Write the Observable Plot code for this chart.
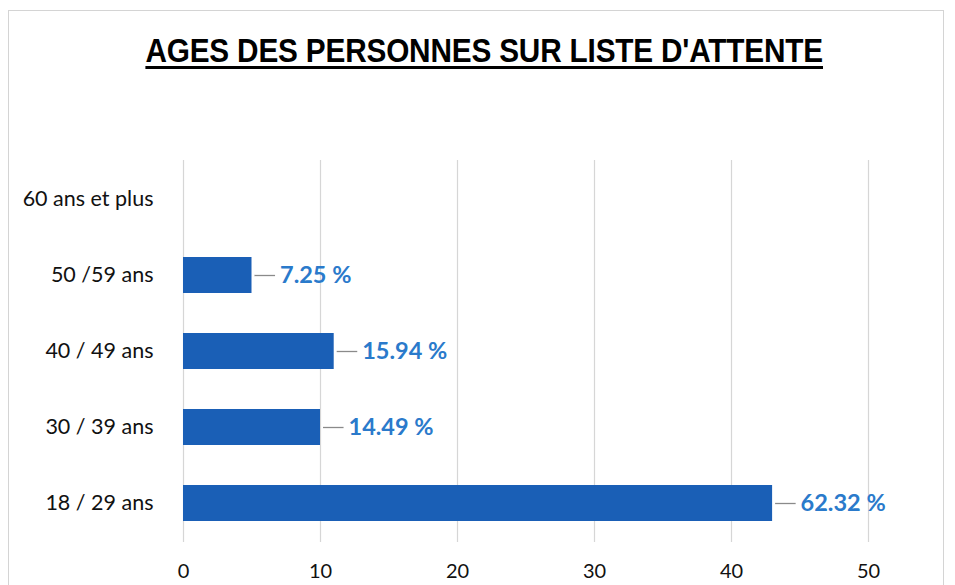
<!DOCTYPE html>
<html>
<head>
<meta charset="utf-8">
<script src="https://cdn.jsdelivr.net/npm/d3@7"></script>
<script src="https://cdn.jsdelivr.net/npm/@observablehq/plot@0.6"></script>
<style>
  html, body { margin: 0; padding: 0; background: #fff; }
  #wrap { position: relative; width: 955px; height: 585px; overflow: hidden; }
  #frame { position: absolute; left: 8px; top: 10px; width: 936px; height: 600px; border: 1px solid #d4d4d4; box-sizing: border-box; }
  #title { position: relative; height: 90px; text-align: center; padding-left: 13px; box-sizing: border-box; }
  #title span { display: inline-block; margin-top: 31px; font-family: "Liberation Sans", Arial, sans-serif; font-weight: bold; font-size: 34px; color: #000;
    text-decoration: underline; text-decoration-thickness: 3px; text-underline-offset: 4px; transform: scaleX(0.875); transform-origin: center; letter-spacing: -0.2px; }
  #chart { position: relative; }
</style>
</head>
<body>
<div id="wrap">
  <div id="frame"></div>
  <div id="title"><span>AGES DES PERSONNES SUR LISTE D'ATTENTE</span></div>
  <div id="chart"></div>
</div>
<script>
const categories = ["60 ans et plus", "50 /59 ans", "40 / 49 ans", "30 / 39 ans", "18 / 29 ans"];
const counts = [0, 5, 11, 10, 43];
const percentLabels = ["", "7.25 %", "15.94 %", "14.49 %", "62.32 %"];
const xTicks = [0, 10, 20, 30, 40, 50];

const data = categories.map((c, i) => ({ cat: c, v: counts[i], label: percentLabels[i] }));
const shown = data.filter(d => d.v > 0);

const chart = Plot.plot({
  width: 955,
  height: 495,
  marginLeft: 183,
  marginRight: 87,
  marginTop: 70,
  marginBottom: 43,
  style: { fontFamily: "Lato, sans-serif", background: "transparent" },
  x: { domain: [0, 50], ticks: xTicks, label: null },
  y: { domain: categories, paddingInner: 0.52, paddingOuter: 0.26, label: null },
  marks: [
    Plot.gridX(xTicks, { stroke: "#d6d6d6", strokeOpacity: 1, strokeWidth: 1.2 }),
    Plot.axisX({ ticks: xTicks, tickSize: 0, tickPadding: 21, fontSize: 20, fill: "#111", label: null }),
    Plot.axisY({ tickSize: 0, tickPadding: 30, fontSize: 21.5, fill: "#111", label: null }),
    Plot.barX(shown, { y: "cat", x: "v", fill: "#1a5fb6" }),
    Plot.ruleY(shown, { y: "cat", x1: "v", x2: d => d.v + 1.5, dx: 3, stroke: "#8a8a8a", strokeWidth: 1.3 }),
    Plot.text(shown, { y: "cat", x: "v", text: "label", textAnchor: "start", dx: 28, fill: "#2a7acb", fontSize: 23.5, fontWeight: "bold" })
  ]
});
document.getElementById("chart").appendChild(chart);
</script>
</body>
</html>
